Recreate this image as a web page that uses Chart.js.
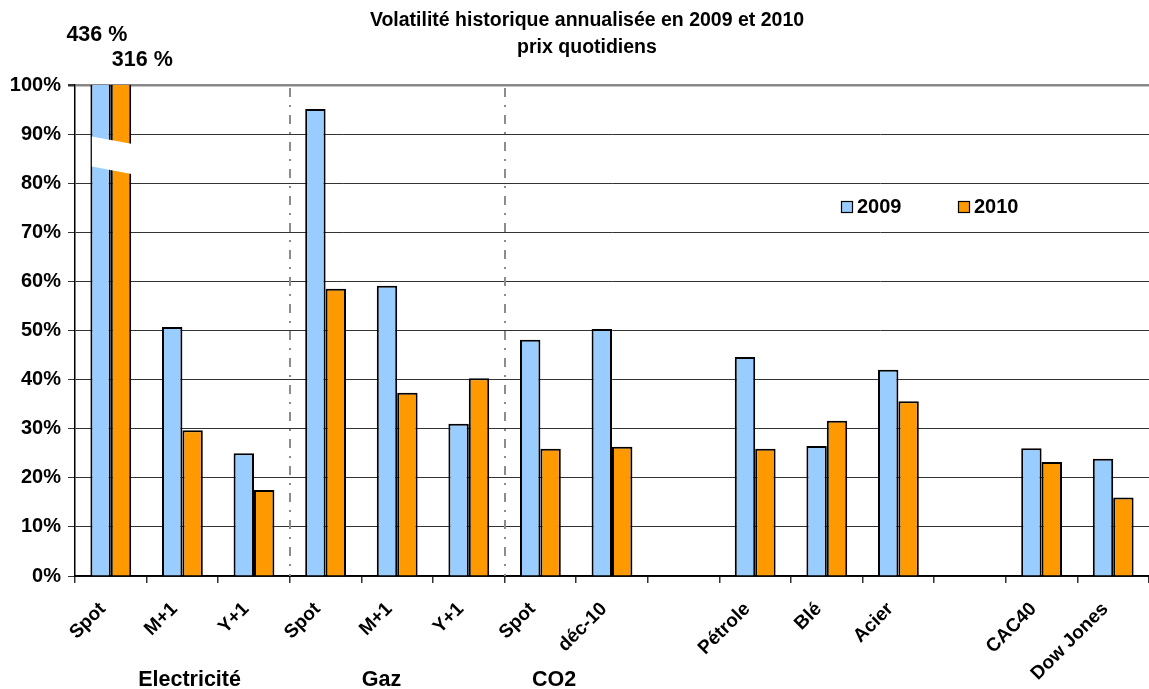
<!DOCTYPE html>
<html>
<head>
<meta charset="utf-8">
<script src="https://cdn.jsdelivr.net/npm/chart.js@4.4.1/dist/chart.umd.min.js"></script>
<style>
  html, body { margin: 0; padding: 0; background: #fff; }
  #wrap { width: 1149px; height: 689px; position: relative; }
</style>
</head>
<body>
<div id="wrap"><canvas id="chart"></canvas></div>
<script>
// Catégories (les vides séparent les groupes)
const categories = ['Spot', 'M+1', 'Y+1', 'Spot', 'M+1', 'Y+1', 'Spot', 'déc-10', '', 'Pétrole', 'Blé', 'Acier', '', 'CAC40', 'Dow Jones'];
const vol2009 = [436, 50.7, 25.0, 95.1, 59.1, 31.0, 48.1, 50.3, null, 44.6, 26.5, 42.0, null, 26.0, 23.9];
const vol2010 = [316, 29.7, 17.5, 58.5, 37.3, 40.3, 25.9, 26.3, null, 25.9, 31.6, 35.6, null, 23.2, 16.0];
const groupNames = ['Electricité', 'Gaz', 'CO2'];
const yTicks = [0, 10, 20, 30, 40, 50, 60, 70, 80, 90, 100];
const titleLines = ['Volatilité historique annualisée en 2009 et 2010', 'prix quotidiens'];

const FONT = '"Liberation Sans", Arial, sans-serif';
const BLUE = '#99CCFF';
const ORANGE = '#FF9900';

// Dessins "à la Excel" : titre, légende, séparateurs, coupure des barres Spot
const decorPlugin = {
    id: 'decor',
    afterDatasetsDraw(chart) {
        const ctx = chart.ctx;
        const area = chart.chartArea;
        const x = chart.scales.x;
        const y = chart.scales.y;

        // séparateurs pointillés entre les groupes
        ctx.save();
        ctx.strokeStyle = '#8c8c8c';
        ctx.lineWidth = 2;
        ctx.setLineDash([9, 8, 2, 8]);
        [2, 5].forEach(function(i) {
            const px = Math.round((x.getPixelForValue(i) + x.getPixelForValue(i + 1)) / 2);
            ctx.beginPath();
            ctx.moveTo(px, area.top + 3);
            ctx.lineTo(px, area.bottom);
            ctx.stroke();
        });
        ctx.restore();

        // coupure sur les barres hors échelle
        const b0 = chart.getDatasetMeta(0).data[0];
        const b1 = chart.getDatasetMeta(1).data[0];
        const left = b0.x - b0.width / 2 + 1.5;
        const right = b1.x + b1.width / 2 + 1.5;
        ctx.save();
        ctx.fillStyle = '#fff';
        ctx.beginPath();
        ctx.moveTo(left, y.getPixelForValue(89.5));
        ctx.lineTo(right, y.getPixelForValue(88));
        ctx.lineTo(right, y.getPixelForValue(81.8));
        ctx.lineTo(left, y.getPixelForValue(83.4));
        ctx.closePath();
        ctx.fill();
        ctx.restore();

        // valeurs réelles des barres coupées
        ctx.save();
        ctx.fillStyle = '#000';
        ctx.font = 'bold 21.5px ' + FONT;
        ctx.textAlign = 'left';
        ctx.textBaseline = 'middle';
        ctx.fillText(vol2009[0] + ' %', b0.x - b0.width / 2 - 24, 35);
        ctx.fillText(vol2010[0] + ' %', b1.x - b1.width / 2 + 1, 60);
        ctx.restore();

        // titre
        ctx.save();
        ctx.fillStyle = '#000';
        ctx.font = 'bold 19.5px ' + FONT;
        ctx.textAlign = 'center';
        ctx.textBaseline = 'middle';
        ctx.fillText(titleLines[0], 587, 21);
        ctx.fillText(titleLines[1], 587, 48);
        ctx.restore();

        // légende
        ctx.save();
        ctx.font = 'bold 20px ' + FONT;
        ctx.textBaseline = 'middle';
        ctx.lineWidth = 1.2;
        ctx.strokeStyle = '#000';
        [[chart.data.datasets[0], 841], [chart.data.datasets[1], 958]].forEach(function(item) {
            const ds = item[0], lx = item[1];
            ctx.fillStyle = ds.backgroundColor;
            ctx.fillRect(lx, 201, 12, 12);
            ctx.strokeRect(lx + 0.5, 201.5, 11, 11);
            ctx.fillStyle = '#000';
            ctx.fillText(ds.label, lx + 16, 207.5);
        });
        ctx.restore();

        // noms des groupes sous l'axe
        ctx.save();
        ctx.fillStyle = '#000';
        ctx.font = 'bold 21.5px ' + FONT;
        ctx.textAlign = 'center';
        ctx.textBaseline = 'middle';
        [1.1, 3.78, 6.19].forEach(function(pos, i) {
            const px = x.getPixelForValue(0) + pos * (x.getPixelForValue(1) - x.getPixelForValue(0));
            ctx.fillText(groupNames[i], px, 680);
        });
        ctx.restore();
    }
};

const ctx = document.getElementById('chart').getContext('2d');
new Chart(ctx, {
    type: 'bar',
    data: {
        labels: categories,
        datasets: [
            {
                label: '2009',
                data: vol2009,
                backgroundColor: BLUE,
                borderColor: '#000',
                borderWidth: 2,
                categoryPercentage: 0.57,
                barPercentage: 1.0
            },
            {
                label: '2010',
                data: vol2010,
                backgroundColor: ORANGE,
                borderColor: '#000',
                borderWidth: 2,
                categoryPercentage: 0.57,
                barPercentage: 1.0
            }
        ]
    },
    options: {
        responsive: true,
        maintainAspectRatio: false,
        animation: false,
        layout: { padding: { top: 85, right: 0, bottom: 0, left: 0 } },
        plugins: {
            legend: { display: false },
            title: { display: false },
            tooltip: { enabled: false }
        },
        scales: {
            x: {
                afterFit: function(scale) { scale.height = 113; },
                grid: {
                    drawOnChartArea: false,
                    drawTicks: true,
                    tickLength: 7,
                    tickColor: '#333',
                    lineWidth: 1.5
                },
                border: { color: '#000', width: 1.8 },
                ticks: {
                    autoSkip: false,
                    maxRotation: 45,
                    minRotation: 45,
                    padding: 15,
                    labelOffset: -8,
                    color: '#000',
                    font: { family: FONT, size: 19, weight: 'bold' }
                }
            },
            y: {
                min: 0,
                max: 100,
                afterFit: function(scale) { scale.width = 75; },
                afterBuildTicks: function(scale) {
                    scale.ticks = yTicks.map(v => ({ value: v }));
                },
                grid: {
                    color: function(c) { return c.tick && c.tick.value === 100 ? '#888' : '#333'; },
                    lineWidth: function(c) { return c.tick && c.tick.value === 100 ? 2.5 : 1; },
                    tickLength: 7,
                    tickColor: '#333'
                },
                border: { color: '#000', width: 1.5 },
                ticks: {
                    padding: 7,
                    color: '#000',
                    font: { family: FONT, size: 20, weight: 'bold' },
                    callback: function(v) { return v + '%'; }
                }
            }
        }
    },
    plugins: [decorPlugin]
});
</script>
</body>
</html>
